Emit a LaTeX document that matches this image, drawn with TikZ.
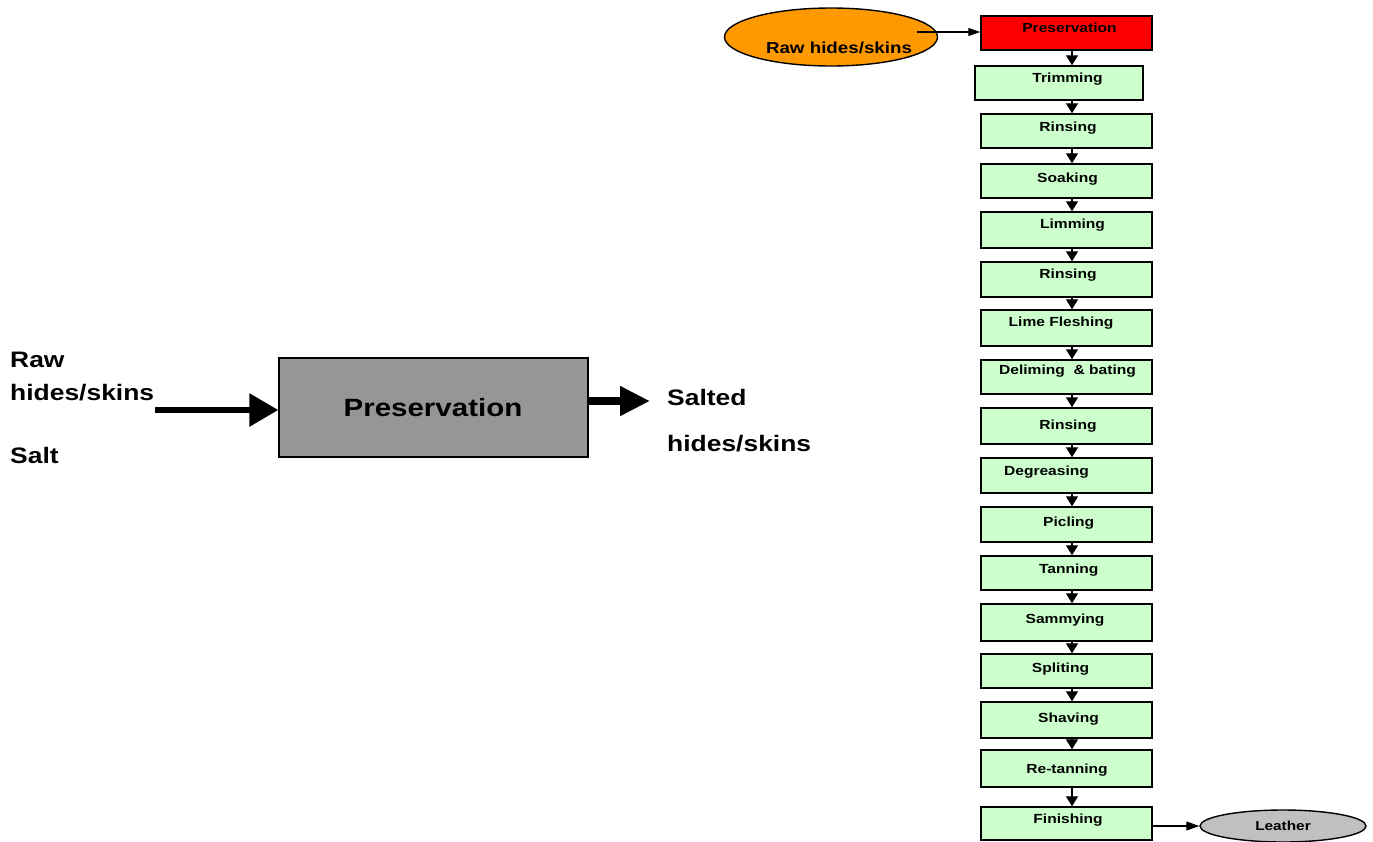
\documentclass[tikz,border=0pt]{standalone}
\usepackage{fontspec}
\setmainfont[FakeStretch=1.18]{Liberation Sans}
\usetikzlibrary{arrows.meta,shapes.geometric}
\definecolor{boxgreen}{HTML}{CCFFCC}
\definecolor{boxred}{HTML}{FF0000}
\definecolor{rawor}{HTML}{FF9900}
\definecolor{leathergray}{HTML}{C0C0C0}
\definecolor{bigbox}{HTML}{969696}
\tikzset{
  stepbox/.style={draw=black,line width=1.4pt,fill=boxgreen,rectangle,inner sep=0pt},
  lbl/.style={anchor=base,inner sep=0pt,font=\fontsize{13.2}{14}\selectfont\bfseries},
  flow/.style={draw=black,line width=1.2pt,-{Triangle[length=10pt,width=12pt]}},
  thin flow/.style={draw=black,line width=1.1pt,-{Triangle[length=12pt,width=8pt]}},
  biglbl/.style={anchor=base west,inner sep=0pt,font=\fontsize{22.4}{24}\selectfont\bfseries},
}
\begin{document}
\begin{tikzpicture}[x=1pt,y=-1pt]
\useasboundingbox (0,0) rectangle (1373,841);
% ---------- left diagram ----------
\node[draw=black,line width=1.4pt,fill=bigbox,minimum width=309pt,minimum height=99pt,inner sep=0pt] (gb) at (433.5,407.5) {};
\node[anchor=base,inner sep=0pt,font=\fontsize{25}{27}\selectfont\bfseries] (gbt) at (433,416) {Preservation};
\node[biglbl] (raw) at (10,367) {Raw};
\node[biglbl] (hides) at (10,400) {hides/skins};
\node[biglbl] (salt) at (10,463) {Salt};
\node[biglbl] (salted) at (667,405) {Salted};
\node[biglbl] (shides) at (667,451) {hides/skins};
\coordinate (la) at (155,410);
\coordinate (ra) at (650,401);
\draw[line width=6pt,-{Triangle[length=29pt,width=32pt]}] (la) -- (gb.west |- la);
\draw[line width=8pt,-{Triangle[length=30pt,width=28pt]}] (gb.east |- ra) -- (ra);
% ---------- right flow chart ----------
\coordinate (ax) at (1072,0);
\node[draw=black,line width=1.4pt,fill=rawor,ellipse,minimum width=213pt,minimum height=58pt,inner sep=0pt] (e1) at (831,37) {};
\node[anchor=base,inner sep=0pt,font=\fontsize{15.9}{17}\selectfont\bfseries] (e1t) at (839,53) {Raw hides/skins};
\node[stepbox,fill=boxred,minimum width=171pt,minimum height=34pt] (b1) at (1066.5,33) {};
\node[lbl] (t1) at (1069.5,32) {Preservation};
\coordinate (s1) at (917,32);
\draw[thin flow] (s1) -- (b1.west |- s1);
\node[stepbox,minimum width=168pt,minimum height=34pt] (b2) at (1059,83) {};
\node[lbl] (t2) at (1067.5,82) {Trimming};
\node[stepbox,minimum width=171pt,minimum height=34pt] (b3) at (1066.5,131) {};
\node[lbl] (t3) at (1068,131) {Rinsing};
\node[stepbox,minimum width=171pt,minimum height=34pt] (b4) at (1066.5,181) {};
\node[lbl] (t4) at (1067.5,182) {Soaking};
\node[stepbox,minimum width=171pt,minimum height=36pt] (b5) at (1066.5,230) {};
\node[lbl] (t5) at (1072.5,228) {Limming};
\node[stepbox,minimum width=171pt,minimum height=35pt] (b6) at (1066.5,279.5) {};
\node[lbl] (t6) at (1068,278) {Rinsing};
\node[stepbox,minimum width=171pt,minimum height=36pt] (b7) at (1066.5,328) {};
\node[lbl] (t7) at (1061,326) {Lime Fleshing};
\node[stepbox,minimum width=171pt,minimum height=34pt] (b8) at (1066.5,377) {};
\node[lbl] (t8) at (1067.5,374) {Deliming\ \ \& bating};
\node[stepbox,minimum width=171pt,minimum height=36pt] (b9) at (1066.5,426) {};
\node[lbl] (t9) at (1068,429) {Rinsing};
\node[stepbox,minimum width=171pt,minimum height=35pt] (b10) at (1066.5,475.5) {};
\node[lbl] (t10) at (1046.5,475) {Degreasing};
\node[stepbox,minimum width=171pt,minimum height=35pt] (b11) at (1066.5,524.5) {};
\node[lbl] (t11) at (1068.7,526) {Picling};
\node[stepbox,minimum width=171pt,minimum height=34pt] (b12) at (1066.5,573) {};
\node[lbl] (t12) at (1068.7,573) {Tanning};
\node[stepbox,minimum width=171pt,minimum height=37pt] (b13) at (1066.5,622.5) {};
\node[lbl] (t13) at (1065,623) {Sammying};
\node[stepbox,minimum width=171pt,minimum height=34pt] (b14) at (1066.5,671) {};
\node[lbl] (t14) at (1060.5,672) {Spliting};
\node[stepbox,minimum width=171pt,minimum height=36pt] (b15) at (1066.5,720) {};
\node[lbl] (t15) at (1068.5,722) {Shaving};
\node[stepbox,minimum width=171pt,minimum height=37pt] (b16) at (1066.5,768.5) {};
\node[lbl] (t16) at (1067,773) {Re-tanning};
\node[stepbox,minimum width=171pt,minimum height=33pt] (b17) at (1066.5,823.5) {};
\node[lbl] (t17) at (1068,823) {Finishing};
\node[draw=black,line width=1.4pt,fill=leathergray,ellipse,minimum width=166pt,minimum height=32pt,inner sep=0pt,font=\fontsize{13}{14}\selectfont\bfseries] (leather) at (1283,826) {Leather};
\coordinate (s2) at (1152,826);
\draw[thin flow,-{Triangle[length=13pt,width=9pt]}] (b17.east |- s2) -- (leather.west |- s2);
\foreach \i [evaluate=\i as \j using int(\i+1)] in {1,...,16}{
  \draw[flow] (b\i.south -| ax) -- (b\j.north -| ax);
}
\end{tikzpicture}
\end{document}
